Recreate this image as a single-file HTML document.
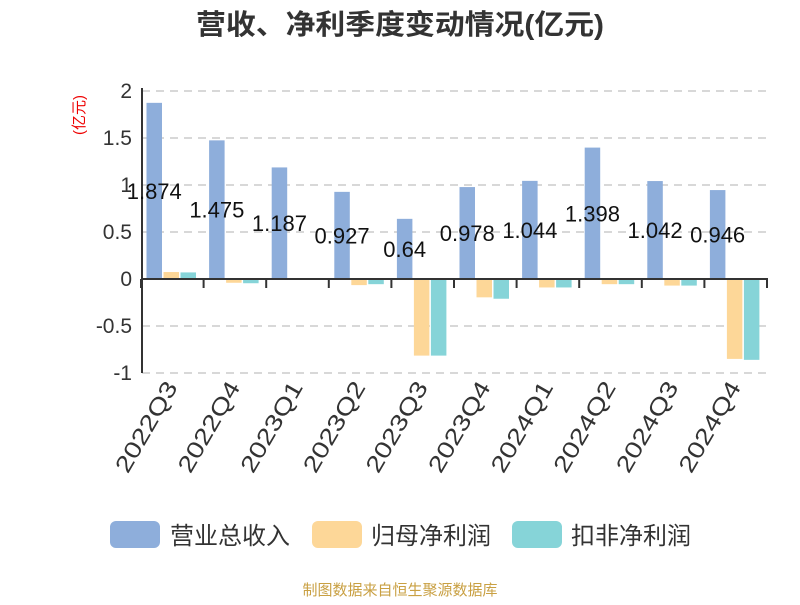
<!DOCTYPE html>
<html><head><meta charset="utf-8"><style>
body{margin:0;background:#fff;}
svg text{font-family:"Liberation Sans","Noto Sans CJK SC",sans-serif;}
</style></head><body>
<svg width="800" height="600" xmlns="http://www.w3.org/2000/svg">
<text x="400" y="34" text-anchor="middle" font-size="28" font-weight="bold" fill="#333" textLength="408" lengthAdjust="spacingAndGlyphs">营收、净利季度变动情况(亿元)</text>
<text transform="translate(84,115) rotate(-90)" text-anchor="middle" font-size="15" fill="#e00">(亿元)</text>
<g stroke="#ccc" stroke-dasharray="8,6" stroke-width="1.5">
<line x1="142" y1="91" x2="768" y2="91"/><line x1="142" y1="138" x2="768" y2="138"/>
<line x1="142" y1="185" x2="768" y2="185"/><line x1="142" y1="232" x2="768" y2="232"/>
<line x1="142" y1="326" x2="768" y2="326"/><line x1="142" y1="373" x2="768" y2="373"/>
</g>
<g font-size="21" fill="#333" text-anchor="end">
<text x="132" y="98">2</text><text x="132" y="145">1.5</text><text x="132" y="192">1</text>
<text x="132" y="239">0.5</text><text x="132" y="286">0</text><text x="132" y="333">-0.5</text><text x="132" y="380">-1</text>
</g>
<g id="bars"></g>
<line x1="142" y1="88" x2="142" y2="373" stroke="#333" stroke-width="2"/>
<line x1="141" y1="279" x2="768" y2="279" stroke="#333" stroke-width="2"/>
<g id="ticks" stroke="#333" stroke-width="2"></g>
<g id="labels"></g>
<rect x="110" y="521" width="50" height="27" rx="6" fill="#8eaedb"/>
<text x="170" y="544" font-size="24" fill="#333">营业总收入</text>
<rect x="312" y="521" width="50" height="27" rx="6" fill="#fdd798"/>
<text x="371" y="544" font-size="24" fill="#333">归母净利润</text>
<rect x="512" y="521" width="50" height="27" rx="6" fill="#86d4d8"/>
<text x="571" y="544" font-size="24" fill="#333">扣非净利润</text>
<text x="400" y="595" text-anchor="middle" font-size="15" fill="#c9a043">制图数据来自恒生聚源数据库</text>
</svg>
<script>
var rev=[1.874,1.475,1.187,0.927,0.64,0.978,1.044,1.398,1.042,0.946];
var np=[0.074,-0.04,0.005,-0.065,-0.815,-0.195,-0.09,-0.055,-0.07,-0.85];
var nd=[0.07,-0.045,-0.005,-0.055,-0.815,-0.21,-0.09,-0.055,-0.07,-0.86];
var cats=["2022Q3","2022Q4","2023Q1","2023Q2","2023Q3","2023Q4","2024Q1","2024Q2","2024Q3","2024Q4"];
var ns="http://www.w3.org/2000/svg",Z=279,S=94,W=62.6;
function el(t,a,p,tx){var e=document.createElementNS(ns,t);for(var k in a)e.setAttribute(k,a[k]);if(tx)e.textContent=tx;document.getElementById(p).appendChild(e);}
function bar(x,v,c){var y=v>=0?Z-v*S:Z,h=Math.max(Math.abs(v*S),0.8);el("rect",{x:x,y:y,width:15.5,height:h,fill:c},"bars");}
for(var i=0;i<10;i++){var x0=141+i*W;
bar(x0+5.5,rev[i],"#8eaedb");bar(x0+22.5,np[i],"#fdd798");bar(x0+39.5,nd[i],"#86d4d8");
var cx=x0+5.5+7.75,cy=Z-rev[i]*S/2;
el("text",{x:cx,y:cy+8,"text-anchor":"middle","font-size":"22",fill:"#111"},"labels",String(rev[i]));
el("line",{x1:x0+W,y1:279,x2:x0+W,y2:288},"ticks");
var lx=x0+W/2+6,ly=387;
el("text",{transform:"translate("+lx+","+ly+") rotate(-60)","text-anchor":"end","font-size":"23",fill:"#333",textLength:"101",lengthAdjust:"spacingAndGlyphs"},"labels",cats[i]);}
el("line",{x1:141,y1:279,x2:141,y2:288},"ticks");
</script>
</body></html>
